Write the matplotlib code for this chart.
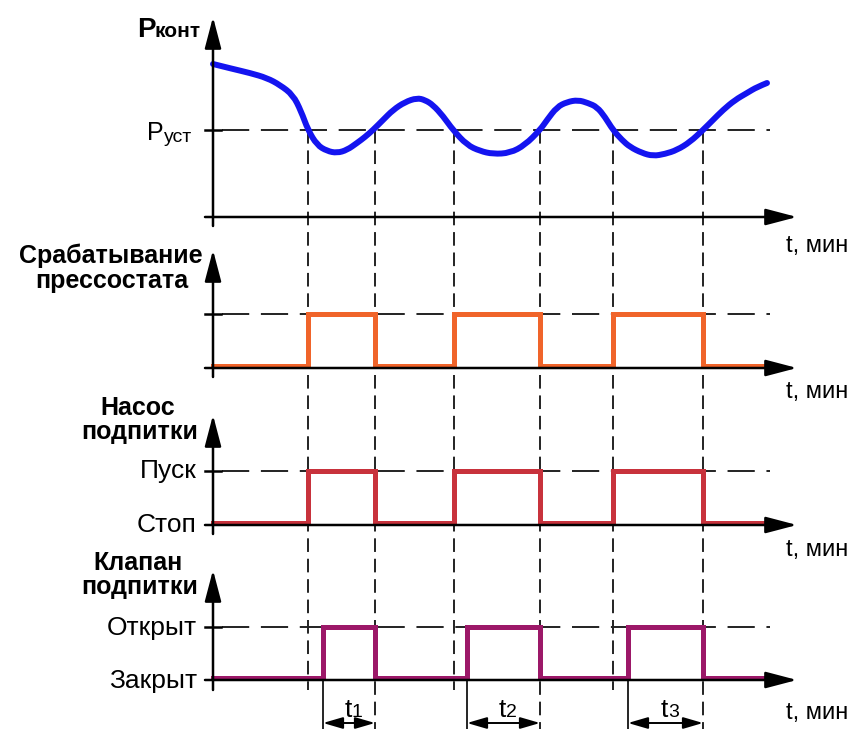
import matplotlib.pyplot as plt
from matplotlib.path import Path
from matplotlib.patches import PathPatch

# moments when the pressure switch / pump turn on and off (time axis, px)
switch_on = [308, 454, 613]
switch_off = [375, 540, 703]
# the valve opens a little later than the pump starts
valve_on = [323, 467, 628]
valve_off = [375, 540, 703]
t_start, t_end = 213, 765
t_labels = ['1', '2', '3']

# pressure in the circuit, measured above the P_уст line
curve_t = [213, 233, 250, 267, 280, 293, 301, 308, 317, 327, 337, 347, 357, 365,
           373, 383, 393, 405, 417, 425, 433, 443, 453, 467, 480, 493, 510, 525,
           540, 547, 557, 567, 578, 588, 597, 605, 613, 622, 630, 642, 653, 665,
           677, 690, 703, 713, 723, 735, 747, 757, 767]
curve_p = [66, 61, 57, 52, 45, 35, 19, 0, -15, -21, -23, -20, -13, -7,
           0, 10, 20, 28, 32, 30, 25, 14, 0, -15, -21, -24, -23, -15,
           0, 10, 23, 28, 30, 27, 23, 13, 0, -10, -17, -23, -26, -24,
           -20, -12, 0, 10, 20, 30, 37, 43, 47]

# panel layout (pixels)
X0 = 213
X_ARROW = 797
PUST_Y = 130
panels = [
    dict(base=217, top=17, bottom=226, tlab=252),
    dict(base=368, high=314, top=250, bottom=377, tlab=398),
    dict(base=525, high=471, top=415, bottom=534, tlab=556),
    dict(base=680, high=627, top=570, bottom=690, tlab=719),
]

FONT = ['Liberation Sans', 'DejaVu Sans']
plt.rcParams['font.family'] = FONT

fig = plt.figure(figsize=(8.57, 7.29), dpi=100)
ax = fig.add_axes([0, 0, 1, 1])
ax.set_xlim(0, 857)
ax.set_ylim(729, 0)
ax.axis('off')

AXW = 1.8


def arrow(x0, y0, x1, y1):
    ax.annotate('', xy=(x1, y1), xytext=(x0, y0),
                arrowprops=dict(arrowstyle='-|>,head_length=1.6,head_width=0.42',
                                lw=AXW, color='black', shrinkA=0, shrinkB=0,
                                mutation_scale=12), zorder=5)


def hdash(y):
    ax.plot([X0 + 9, 770], [y, y], color='#222222', lw=1.4,
            dashes=(14, 6), zorder=1)
    ax.plot([X0 - 8, X0 + 8], [y, y], color='black', lw=AXW, zorder=5)


# axes of all four panels
for p in panels:
    arrow(X0, p['bottom'], X0, p['top'])
    arrow(X0 - 8, p['base'], X_ARROW, p['base'])
    if 'high' in p:
        hdash(p['high'])
    ax.text(786, p['tlab'], 't, мин', fontsize=17, ha='left', va='baseline')
hdash(PUST_Y)

# vertical dashed guides
for x in switch_on:
    ax.plot([x, x], [PUST_Y, 690], color='#222222', lw=1.4, dashes=(7, 3.5), zorder=1)
for x in switch_off:
    ax.plot([x, x], [PUST_Y, 729], color='#222222', lw=1.4, dashes=(7, 3.5), zorder=1)

# pressure curve: smooth quadratic path through the midpoints of the read points
pts = [(t, PUST_Y - v) for t, v in zip(curve_t, curve_p)]
verts = [pts[0]]
codes = [Path.MOVETO]
for i in range(1, len(pts) - 1):
    mid = ((pts[i][0] + pts[i + 1][0]) / 2, (pts[i][1] + pts[i + 1][1]) / 2)
    if i == len(pts) - 2:
        mid = pts[-1]
    verts += [pts[i], mid]
    codes += [Path.CURVE3, Path.CURVE3]
ax.add_patch(PathPatch(Path(verts, codes), facecolor='none', edgecolor='#1414F0',
                       lw=4.3, capstyle='round', joinstyle='round', zorder=4))


def step(ons, offs, p, color):
    xs, ys = [t_start], [p['base'] - 2]
    for a, b in zip(ons, offs):
        xs += [a, a, b, b]
        ys += [p['base'] - 2, p['high'], p['high'], p['base'] - 2]
    xs.append(t_end)
    ys.append(p['base'] - 2)
    ax.plot(xs, ys, color=color, lw=3.6, solid_joinstyle='miter', zorder=4)


step(switch_on, switch_off, panels[1], '#F0642A')
step(switch_on, switch_off, panels[2], '#C8323C')
step(valve_on, valve_off, panels[3], '#9C1868')

# valve open durations t1..t3
for a, b, lab in zip(valve_on, valve_off, t_labels):
    ax.plot([a, a], [panels[3]['base'], 729], color='black', lw=1.2, zorder=2)
    ax.annotate('', xy=(a, 723), xytext=(b, 723),
                arrowprops=dict(arrowstyle='<|-|>,head_length=1.2,head_width=0.35',
                                lw=1.4, color='black', shrinkA=0, shrinkB=0,
                                mutation_scale=10))
    mid = (a + b) / 2
    ax.text(mid + 3, 717, 't', fontsize=19, ha='right', va='baseline')
    ax.text(mid + 3, 717, lab, fontsize=14, ha='left', va='baseline')

# left-hand labels
ax.text(156, 37, 'P', fontsize=20, fontweight='bold', ha='right', va='baseline')
ax.text(155, 37, 'конт', fontsize=15, fontweight='bold', ha='left', va='baseline')
ax.text(164, 140, 'P', fontsize=18, ha='right', va='baseline')
ax.text(164, 142, 'уст', fontsize=14, ha='left', va='baseline')

ax.text(111, 263, 'Срабатывание', fontsize=18, fontweight='bold', ha='center', va='baseline')
ax.text(112, 288, 'прессостата', fontsize=18, fontweight='bold', ha='center', va='baseline')
ax.text(138, 415, 'Насос', fontsize=18, fontweight='bold', ha='center', va='baseline')
ax.text(140, 439, 'подпитки', fontsize=18, fontweight='bold', ha='center', va='baseline')
ax.text(138, 570, 'Клапан', fontsize=18, fontweight='bold', ha='center', va='baseline')
ax.text(140, 594, 'подпитки', fontsize=18, fontweight='bold', ha='center', va='baseline')

ax.text(197, 478, 'Пуск', fontsize=19, ha='right', va='baseline')
ax.text(197, 532, 'Стоп', fontsize=19, ha='right', va='baseline')
ax.text(197, 635, 'Открыт', fontsize=19, ha='right', va='baseline')
ax.text(197, 688, 'Закрыт', fontsize=19, ha='right', va='baseline')

fig.savefig('out.png', dpi=100)
